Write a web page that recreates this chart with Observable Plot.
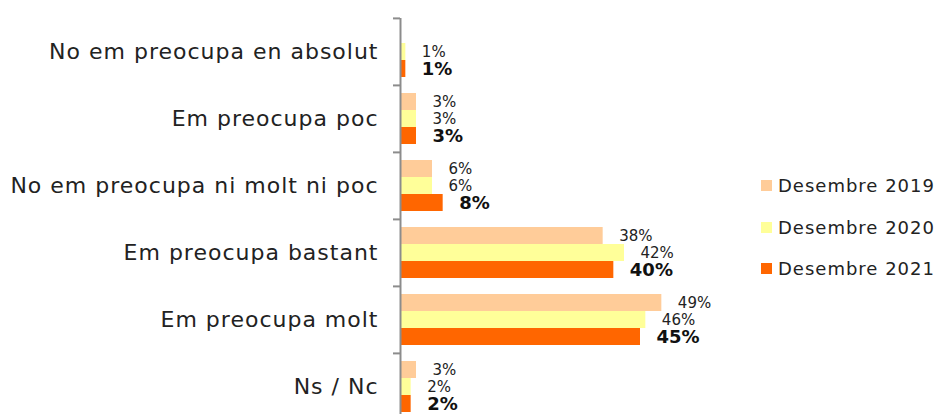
<!DOCTYPE html>
<html><head><meta charset="utf-8">
<script src="https://cdn.jsdelivr.net/npm/d3@7"></script>
<script src="https://cdn.jsdelivr.net/npm/@observablehq/plot@0.6"></script>
<style>
body{margin:0;background:#fff;font-family:"DejaVu Sans",sans-serif;}
#wrap{position:relative;width:940px;height:414px;overflow:hidden}
#legend{position:absolute;left:761px;top:165px;font-size:18px;letter-spacing:1px;color:#222}
#legend .row{display:flex;align-items:center;height:41.5px}
#legend .sw{width:11px;height:11px;margin-right:6px;flex:none}
g[aria-label="fy-axis tick label"]{letter-spacing:1px}
</style></head><body>
<div id="wrap"><div id="chart"></div><div id="legend"></div></div>
<script>
const categories = ["No em preocupa en absolut","Em preocupa poc","No em preocupa ni molt ni poc","Em preocupa bastant","Em preocupa molt","Ns / Nc"];
const series = ["Desembre 2019","Desembre 2020","Desembre 2021"];
const v2019 = [null, 3, 6, 38, 49, 3];
const v2020 = [1, 3, 6, 42, 46, 2];
const v2021 = [1, 3, 8, 40, 45, 2];
const colors = ["#FFCC99","#FFFF99","#FF6600"];

const values = [v2019, v2020, v2021];
const data = categories.flatMap((c, i) => series.map((s, j) => ({category: c, series: s, value: values[j][i]})))
  .filter(d => d.value != null);

const chart = Plot.plot({
  width: 940, height: 420,
  marginLeft: 400, marginRight: 220, marginTop: 17, marginBottom: 0,
  x: {domain: [0, 60], axis: null},
  y: {domain: series, paddingInner: 0, paddingOuter: 0.433, axis: null},
  fy: {domain: categories, paddingInner: 0, paddingOuter: 0},
  color: {domain: series, range: colors},
  style: {fontFamily: "DejaVu Sans", overflow: "visible", background: "#fff"},
  marks: [
    Plot.barX(data, {x: "value", y: "series", fy: "category", fill: "series"}),
    Plot.text(data.filter(d => d.series !== series[2]), {x: "value", y: "series", fy: "category", text: d => d.value + "%", textAnchor: "start", dx: 16, fontSize: 15, fill: "#222"}),
    Plot.text(data.filter(d => d.series === series[2]), {x: "value", y: "series", fy: "category", text: d => d.value + "%", textAnchor: "start", dx: 16, fontSize: 18, fontWeight: "bold", fill: "#111"}),
    Plot.ruleX([0], {stroke: "#8c8c8c", strokeWidth: 2}),
    Plot.axisFy({anchor: "left", tickSize: 7, fill: "none", stroke: "#8c8c8c", strokeWidth: 2, dy: -33.6, label: null}),
    Plot.axisFy({anchor: "left", tickSize: 0, tickPadding: 22, fontSize: 22, fill: "#222", label: null})
  ]
});
document.getElementById("chart").appendChild(chart);

const legend = document.getElementById("legend");
series.forEach((s, i) => {
  const row = document.createElement("div");
  row.className = "row";
  row.innerHTML = `<span class="sw" style="background:${colors[i]}"></span><span>${s}</span>`;
  legend.appendChild(row);
});
</script>
</body></html>
